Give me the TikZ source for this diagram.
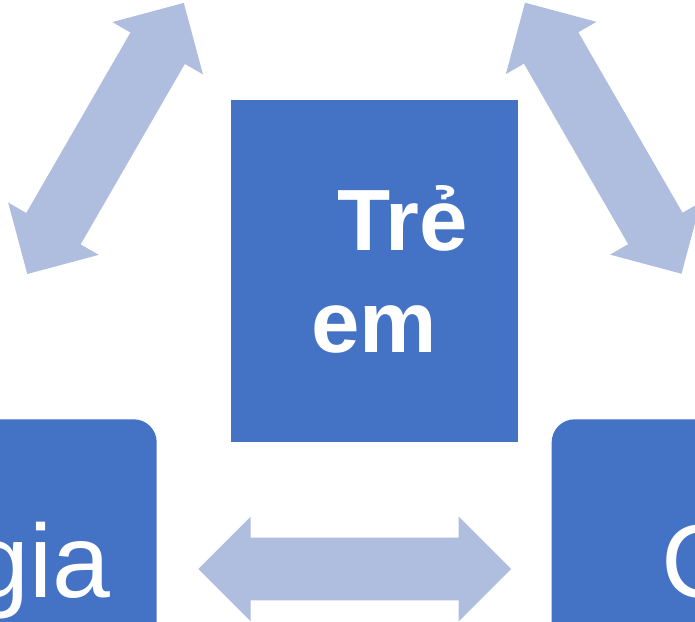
\documentclass[tikz,border=0pt]{standalone}
\usepackage{fontspec}
\setmainfont{Liberation Sans}
\definecolor{boxblue}{RGB}{68,114,196}
\definecolor{arrowblue}{RGB}{175,189,222}
\tikzset{
  boxnode/.style={fill=boxblue, draw=none, inner sep=0pt, outer sep=0pt},
  boxtext/.style={text=white, inner sep=0pt, outer sep=0pt},
  blockarrow/.style={fill=arrowblue, draw=none}
}
% double block arrow: tip at origin, along +x, length #1
\newcommand{\dblblockarrow}[1]{%
  \fill[blockarrow] (0,0) -- (52.3,52.3) -- (52.3,31.4) -- (#1-52.3,31.4) -- (#1-52.3,52.3)
    -- (#1,0) -- (#1-52.3,-52.3) -- (#1-52.3,-31.4) -- (52.3,-31.4) -- (52.3,-52.3) -- cycle;}
\begin{document}
\begin{tikzpicture}[x=1pt,y=1pt]
\useasboundingbox (0,0) rectangle (695,621);
\clip (0,0) rectangle (695,621);
% arrows
\coordinate (a1s) at (27.3,347);
\coordinate (a2s) at (525,618.3);
\coordinate (a3s) at (198.3,52);
\begin{scope}[shift={(a1s)}, rotate=60]\dblblockarrow{313}\end{scope}
\begin{scope}[shift={(a2s)}, rotate=-60]\dblblockarrow{313}\end{scope}
\begin{scope}[shift={(a3s)}]\dblblockarrow{312.7}\end{scope}
% central box
\node[boxnode, minimum width=287pt, minimum height=342pt, anchor=south west] (child) at (231,179) {};
\node[boxtext, anchor=base west, font=\fontsize{87}{100}\selectfont\bfseries] (t1) at (337,370.3) {Trẻ};
\node[boxtext, anchor=base west, font=\fontsize{87}{100}\selectfont\bfseries] (t2) at (311.5,268) {em};
% bottom-left box
\node[boxnode, rounded corners=23pt, minimum width=220pt, minimum height=260pt, anchor=north east] (left) at (156.7,201.7) {};
\node[boxtext, anchor=base east, font=\fontsize{104}{120}\selectfont] (lt) at (110.7,24) {gia};
% bottom-right box
\node[boxnode, rounded corners=23pt, minimum width=220pt, minimum height=260pt, anchor=north west] (right) at (551.7,201.7) {};
\node[boxtext, anchor=base west, font=\fontsize{104}{120}\selectfont] (rt) at (661,24) {C};
\end{tikzpicture}
\end{document}
